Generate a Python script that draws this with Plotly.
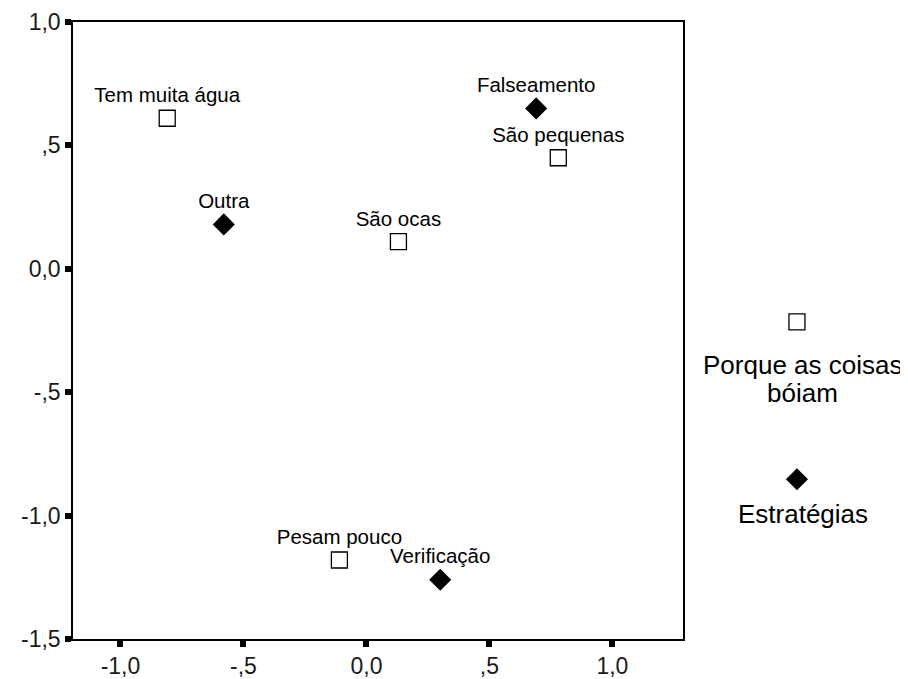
import plotly.graph_objects as go

# Data
cat_names = ["Tem muita água", "São pequenas", "São ocas", "Pesam pouco"]
cat_x = [-0.81, 0.78, 0.13, -0.11]
cat_y = [0.61, 0.45, 0.11, -1.18]

strat_names = ["Falseamento", "Outra", "Verificação"]
strat_x = [0.69, -0.58, 0.30]
strat_y = [0.65, 0.18, -1.26]

series_names = ["Porque as coisas bóiam", "Estratégias"]

tick_vals = [-1.5, -1.0, -0.5, 0.0, 0.5, 1.0]
tick_text = ["-1,5", "-1,0", "-,5", "0,0", ",5", "1,0"]
xtick_vals = [-1.0, -0.5, 0.0, 0.5, 1.0]
xtick_text = ["-1,0", "-,5", "0,0", ",5", "1,0"]

FONT = "Liberation Sans, Arial, sans-serif"
INK = "#000000"

fig = go.Figure()

fig.add_trace(go.Scatter(
    x=cat_x, y=cat_y, mode="markers+text", text=cat_names,
    textposition="top center",
    textfont=dict(family=FONT, size=20.5, color=INK),
    marker=dict(symbol="square-open", size=16, color=INK, line=dict(width=1.3, color=INK)),
    name=series_names[0], showlegend=False, cliponaxis=False,
))
fig.add_trace(go.Scatter(
    x=strat_x, y=strat_y, mode="markers+text", text=strat_names,
    textposition="top center",
    textfont=dict(family=FONT, size=20.5, color=INK),
    marker=dict(symbol="diamond", size=17, color=INK),
    name=series_names[1], showlegend=False, cliponaxis=False,
))

# Custom legend (symbol above centred label), drawn on an auxiliary axis pair
leg_sym_x = 0.511
leg_txt_x = 0.538
fig.add_trace(go.Scatter(
    x=[leg_sym_x], y=[0.514], mode="markers", xaxis="x2", yaxis="y2",
    marker=dict(symbol="square-open", size=16, color=INK, line=dict(width=1.3, color=INK)),
    showlegend=False, hoverinfo="skip",
))
fig.add_trace(go.Scatter(
    x=[leg_sym_x], y=[0.259], mode="markers", xaxis="x2", yaxis="y2",
    marker=dict(symbol="diamond", size=17, color=INK),
    showlegend=False, hoverinfo="skip",
))

leg_font = dict(family=FONT, size=26, color=INK)
fig.add_annotation(x=leg_txt_x, y=0.444, xref="x2", yref="y2", text="Porque as coisas",
                   showarrow=False, font=leg_font, xanchor="center", yanchor="middle")
fig.add_annotation(x=leg_txt_x, y=0.399, xref="x2", yref="y2", text="bóiam",
                   showarrow=False, font=leg_font, xanchor="center", yanchor="middle")
fig.add_annotation(x=leg_txt_x, y=0.203, xref="x2", yref="y2", text=series_names[1],
                   showarrow=False, font=leg_font, xanchor="center", yanchor="middle")

tick_font = dict(family=FONT, size=23, color="#1a1a1a")
# The page body adds an 8px margin, so the figure is 900x671 and margins are offset.
fig.update_layout(
    width=900, height=671,
    margin=dict(l=65, r=2, t=14, b=40, autoexpand=False),
    paper_bgcolor="white", plot_bgcolor="white",
    font=dict(family=FONT, color=INK),
    showlegend=False,
    xaxis=dict(
        domain=[0, 0.7323], range=[-1.193, 1.287], automargin=False,
        tickvals=xtick_vals, ticktext=xtick_text, tickfont=tick_font,
        ticks="outside", ticklen=6, tickwidth=6, tickcolor=INK,
        showline=True, linecolor=INK, linewidth=1.5, mirror=True,
        showgrid=False, zeroline=False,
    ),
    yaxis=dict(
        range=[-1.5, 1.0], automargin=False,
        tickvals=tick_vals, ticktext=tick_text, tickfont=tick_font,
        ticks="outside", ticklen=6, tickwidth=6, tickcolor=INK,
        showline=True, linecolor=INK, linewidth=1.5, mirror=True,
        showgrid=False, zeroline=False,
    ),
    xaxis2=dict(domain=[0.7323, 1], range=[0, 1], visible=False, anchor="y2", automargin=False),
    yaxis2=dict(domain=[0, 1], range=[0, 1], visible=False, anchor="x2", automargin=False),
)

fig.write_html("out.html")
